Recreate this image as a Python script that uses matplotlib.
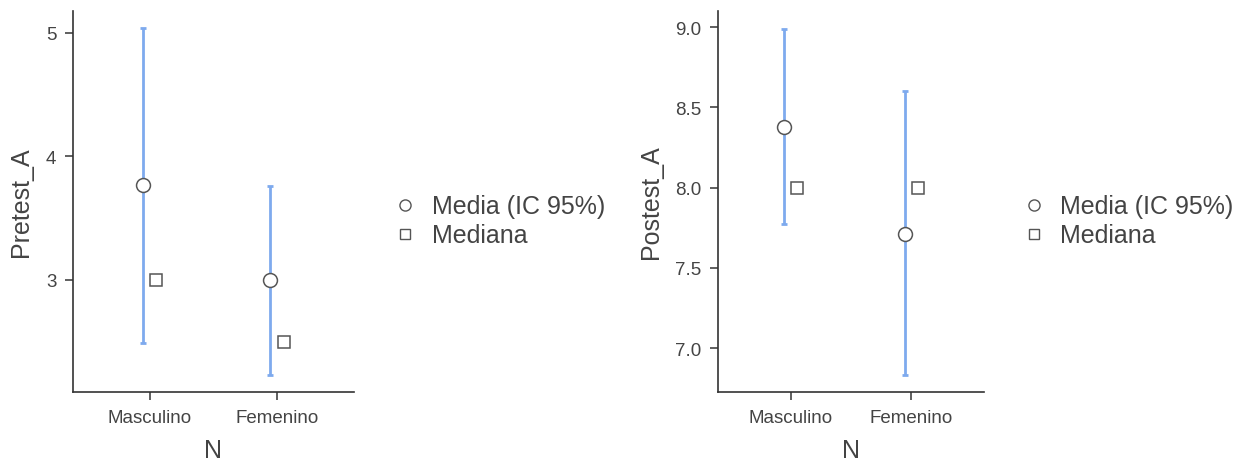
import numpy as np
import matplotlib
matplotlib.use("Agg")
import matplotlib.pyplot as plt
from matplotlib.lines import Line2D

plt.rcParams["font.family"] = ["Liberation Sans", "DejaVu Sans"]

# --- data ---
groups = ["Masculino", "Femenino"]

pre_mean = [3.77, 3.00]
pre_lo = [2.49, 2.23]
pre_hi = [5.04, 3.76]
pre_median = [3.0, 2.5]

post_mean = [8.38, 7.71]
post_lo = [7.77, 6.83]
post_hi = [8.99, 8.60]
post_median = [8.0, 8.0]

# --- style ---
BLUE = "#7eaaee"
EDGE = "#555555"
AXIS = "#333333"
TICK = "#444444"


def panel(ax, mean, lo, hi, median, ylabel, yticks, ylim):
    x = np.arange(1, len(groups) + 1)
    mean = np.array(mean)
    err = [mean - np.array(lo), np.array(hi) - mean]
    ax.errorbar(x - 0.055, mean, yerr=err, fmt="none", ecolor=BLUE,
                elinewidth=2, capsize=2.5, capthick=2, zorder=2)
    ax.plot(x - 0.055, mean, "o", ms=10, mfc="white", mec=EDGE, mew=1.1, zorder=3)
    ax.plot(x + 0.05, median, "s", ms=9, mfc="white", mec=EDGE, mew=1.1, zorder=3)

    ax.set_xlim(0.4, 2.6)
    ax.set_ylim(*ylim)
    ax.set_xticks(x)
    ax.set_xticklabels(groups)
    ax.set_yticks(yticks)
    ax.set_xlabel("N", fontsize=18, color=TICK, labelpad=9)
    ax.set_ylabel(ylabel, fontsize=18, color=TICK, labelpad=9)
    ax.tick_params(colors=TICK, labelsize=13.5, length=6, width=1.2, pad=6)
    for sp in ["top", "right"]:
        ax.spines[sp].set_visible(False)
    for sp in ["left", "bottom"]:
        ax.spines[sp].set_color(AXIS)
        ax.spines[sp].set_linewidth(1.2)

    handles = [
        Line2D([], [], ls="none", marker="o", ms=8, mfc="white", mec=EDGE, mew=1),
        Line2D([], [], ls="none", marker="s", ms=7, mfc="white", mec=EDGE, mew=1),
    ]
    ax.legend(handles, ["Media (IC 95%)", "Mediana"], loc="center left",
              bbox_to_anchor=(1.085, 0.449), frameon=False, fontsize=18,
              labelcolor=TICK, handletextpad=0.45, handlelength=1.2,
              labelspacing=0.2, borderpad=0)


fig = plt.figure(figsize=(12.45, 4.64), dpi=100)
ax1 = fig.add_axes([73 / 1245, 1 - 393 / 464, 281 / 1245, 381 / 464])
ax2 = fig.add_axes([718 / 1245, 1 - 393 / 464, 266 / 1245, 381 / 464])

panel(ax1, pre_mean, pre_lo, pre_hi, pre_median, "Pretest_A", [3, 4, 5], (2.093, 5.178))
panel(ax2, post_mean, post_lo, post_hi, post_median, "Postest_A",
      [7.0, 7.5, 8.0, 8.5, 9.0], (6.726, 9.10))
ax2.set_yticklabels(["7.0", "7.5", "8.0", "8.5", "9.0"])

fig.savefig("out.png", dpi=100, facecolor="white")
